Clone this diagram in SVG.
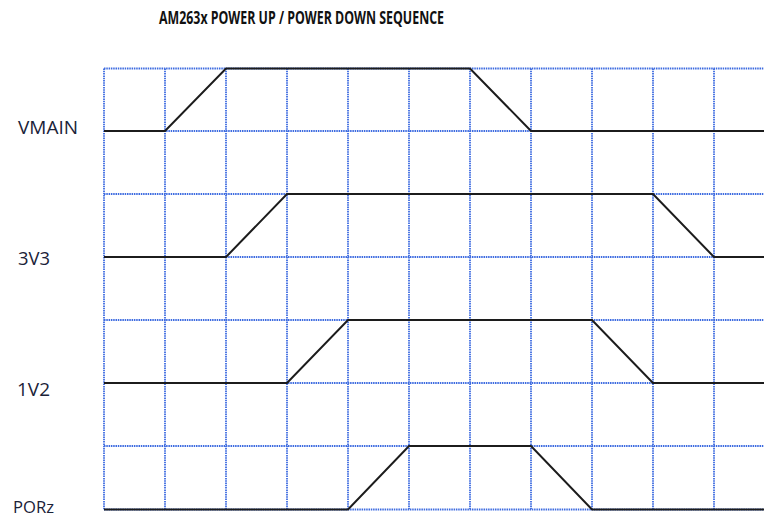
<svg xmlns="http://www.w3.org/2000/svg" width="764" height="519" viewBox="0 0 764 519">
<style>
.grid{stroke:#3d6be0;stroke-width:1.8;stroke-dasharray:1.5 0.8;fill:none}
.sig{stroke:#1c1c1c;stroke-width:2;fill:none;stroke-linejoin:miter}
.lbl{font-family:"Open Sans","Liberation Sans",sans-serif;font-size:18px;font-weight:500;fill:#1a2238}
.title{font-family:"Open Sans","Liberation Sans",sans-serif;font-size:18px;font-weight:bold;fill:#111}
</style>
<rect width="764" height="519" fill="#fff"/>
<text class="title" x="159" y="24" textLength="285" lengthAdjust="spacingAndGlyphs">AM263x POWER UP / POWER DOWN SEQUENCE</text>
<g id="grid">
<path class="grid" d="M104 68.5V510 M165 68.5V510 M226 68.5V510 M287 68.5V510 M348 68.5V510 M409 68.5V510 M470 68.5V510 M531 68.5V510 M592 68.5V510 M653 68.5V510 M714 68.5V510"/>
<path class="grid" d="M104 68.5H764 M104 131H764 M104 194H764 M104 257H764 M104 320H764 M104 383H764 M104 446H764 M104 509.5H764"/>
</g>
<g id="labels">
<text class="lbl" x="18" y="134" textLength="60" lengthAdjust="spacingAndGlyphs">VMAIN</text>
<text class="lbl" x="18" y="265" textLength="32" lengthAdjust="spacingAndGlyphs">3V3</text>
<text class="lbl" x="17" y="396" textLength="33" lengthAdjust="spacingAndGlyphs">1V2</text>
<text class="lbl" x="13" y="513" style="font-size:17px" textLength="41" lengthAdjust="spacingAndGlyphs">PORz</text>
</g>
<g id="connectors">
<polyline id="vmain" class="sig" points="104,131 165,131 226,68.5 470,68.5 531,131 764,131"/>
<polyline id="v3v3" class="sig" points="104,257 226,257 287,194 653,194 714,257 764,257"/>
<polyline id="v1v2" class="sig" points="104,383 287,383 348,320 592,320 653,383 764,383"/>
<polyline id="porz" class="sig" points="104,509.5 348,509.5 409,446 531,446 592,509.5 764,509.5"/>
</g>
</svg>
